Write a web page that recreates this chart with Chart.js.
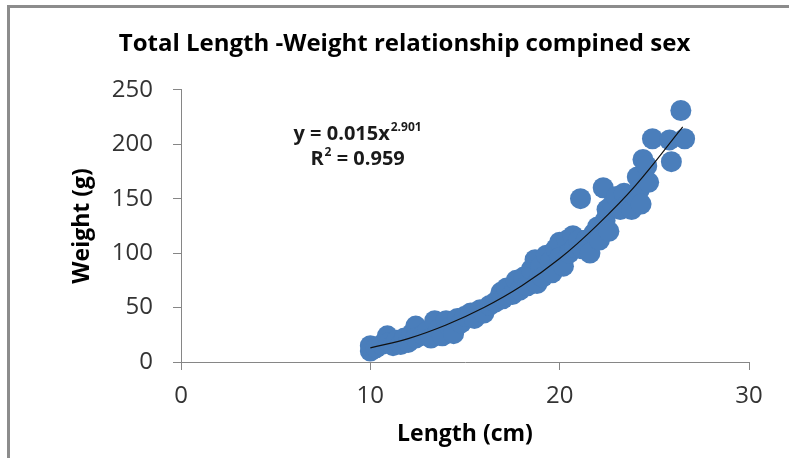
<!DOCTYPE html>
<html>
<head>
<meta charset="utf-8">
<script src="https://cdn.jsdelivr.net/npm/chart.js@4.4.1/dist/chart.umd.min.js"></script>
<style>
  html, body { margin: 0; padding: 0; background: #fff; }
  #wrap { width: 789px; height: 458px; }
</style>
</head>
<body>
<div id="wrap"><canvas id="chart" width="789" height="458"></canvas></div>
<script>
// values
const lengthCm = [
    10.0, 10.0, 10.3, 10.6, 10.9, 11.0, 11.2, 11.4, 11.6, 11.8, 12.0, 12.2, 12.4, 12.4,
    12.8, 13.0, 13.2, 13.4, 13.6, 13.8, 14.0, 14.2, 14.4, 14.6, 14.8, 15.0,
    15.3, 15.5, 15.8, 16.0, 16.3, 16.6, 16.9, 17.0, 17.2, 17.5,
    17.7, 17.9, 18.1, 18.3, 18.5, 18.7, 18.8, 19.0, 19.1, 19.3, 19.5, 19.6, 19.8,
    20.0, 20.0, 20.2, 20.4, 20.5, 20.7, 20.8, 21.0,
    21.1, 21.2, 21.4, 21.6, 21.8, 22.0, 22.1, 22.3, 22.4, 22.5, 22.6, 22.8, 23.0, 23.2,
    23.4, 23.6, 23.8, 24.0, 24.1, 24.2, 24.3, 24.4, 24.6, 24.7, 24.9, 25.8, 25.9, 26.4, 26.6
];
const weightG = [
    10, 15, 13, 16, 24, 18, 15, 20, 16, 22, 18, 26, 33, 22,
    25, 28, 22, 38, 30, 24, 38, 32, 26, 40, 36, 42,
    45, 40, 48, 45, 52, 55, 64, 58, 68, 62,
    75, 66, 78, 70, 85, 94, 72, 88, 78, 98, 92, 82, 104,
    110, 96, 88, 112, 100, 116, 105, 112,
    150, 104, 112, 100, 118, 124, 112, 160, 130, 140, 120, 145, 152, 140,
    155, 145, 140, 152, 170, 158, 145, 186, 180, 165, 205, 204, 184, 231, 205
];

// power trend line as drawn in the picture (y = 0.015x^2.901)
const trendLength = [10, 12, 14, 16, 18, 20, 22, 24, 26.5];
const trendWeight = [13, 21.5, 34, 50, 70, 95, 126, 162, 216];

const xTicks = [0, 10, 20, 30];
const yTicks = [0, 50, 100, 150, 200, 250];

const equationLine = 'y = 0.015x';
const equationPower = '2.901';
const rSquaredLine = ' = 0.959';

const scatterPoints = lengthCm.map((x, i) => ({ x, y: weightG[i] }));
const trendPoints = trendLength.map((x, i) => ({ x, y: trendWeight[i] }));

const axisGrey = '#868686';

// grey frame on the top and left edge, as in the cropped screenshot
const framePlugin = {
    id: 'frame',
    beforeDraw(chart) {
        const ctx = chart.ctx;
        ctx.save();
        ctx.fillStyle = '#fff';
        ctx.fillRect(0, 0, chart.width, chart.height);
        ctx.strokeStyle = '#8c8c8c';
        ctx.lineWidth = 3;
        ctx.beginPath();
        ctx.moveTo(8.5, chart.height);
        ctx.lineTo(8.5, 6.5);
        ctx.lineTo(chart.width, 6.5);
        ctx.stroke();
        ctx.restore();
    }
};

// trendline equation label
const equationPlugin = {
    id: 'equation',
    afterDatasetsDraw(chart, args, opts) {
        const ctx = chart.ctx;
        const cx = chart.scales.x.getPixelForValue(opts.x);
        const cy = chart.scales.y.getPixelForValue(opts.y);
        ctx.save();
        ctx.fillStyle = '#1a1a1a';
        ctx.textBaseline = 'alphabetic';
        ctx.textAlign = 'left';

        const big = 'bold 20px "Open Sans", sans-serif';
        const small = 'bold 12px "Open Sans", sans-serif';

        ctx.font = big;
        const w1 = ctx.measureText(equationLine).width;
        ctx.font = small;
        const w2 = ctx.measureText(equationPower).width;
        let x0 = cx - (w1 + w2) / 2;
        ctx.font = big;
        ctx.fillText(equationLine, x0, cy);
        ctx.font = small;
        ctx.fillText(equationPower, x0 + w1 + 1, cy - 9);

        // second line: R² = 0.959
        ctx.font = big;
        const wr = ctx.measureText('R').width;
        ctx.font = small;
        const ws = ctx.measureText('2').width;
        ctx.font = big;
        const wv = ctx.measureText(rSquaredLine).width;
        x0 = cx - (wr + ws + wv) / 2;
        const y2 = cy + 25;
        ctx.fillText('R', x0, y2);
        ctx.font = small;
        ctx.fillText('2', x0 + wr + 1, y2 - 9);
        ctx.font = big;
        ctx.fillText(rSquaredLine, x0 + wr + ws + 1, y2);
        ctx.restore();
    }
};

const ctx = document.getElementById('chart').getContext('2d');

new Chart(ctx, {
    type: 'scatter',
    data: {
        datasets: [
            {
                label: 'Trend',
                type: 'line',
                data: trendPoints,
                borderColor: '#111',
                borderWidth: 1.2,
                pointRadius: 0,
                fill: false,
                tension: 0.4,
                order: 0
            },
            {
                label: 'Weight',
                data: scatterPoints,
                backgroundColor: '#4a7ebb',
                borderWidth: 0,
                pointRadius: 10.5,
                pointHoverRadius: 10.5,
                order: 1
            }
        ]
    },
    options: {
        responsive: false,
        animation: false,
        devicePixelRatio: 1,
        layout: {
            padding: { left: 60, right: 40, top: 0, bottom: 0 }
        },
        plugins: {
            legend: { display: false },
            tooltip: { enabled: false },
            title: {
                display: true,
                text: 'Total Length -Weight relationship compined sex',
                color: '#000',
                font: { family: '"Open Sans"', size: 24, weight: 'bold' },
                padding: { top: 30, bottom: 31 }
            },
            equation: { x: 9.3, y: 204 }
        },
        scales: {
            x: {
                type: 'linear',
                min: 0,
                max: 30,
                afterBuildTicks: axis => { axis.ticks = xTicks.map(v => ({ value: v })); },
                afterFit: axis => { axis.height = 96; },
                ticks: {
                    color: '#333',
                    padding: 12,
                    font: { family: '"Open Sans"', size: 24 }
                },
                grid: {
                    display: true,
                    drawOnChartArea: false,
                    drawTicks: true,
                    tickLength: 8,
                    color: axisGrey
                },
                border: { display: true, color: axisGrey },
                title: {
                    display: true,
                    text: 'Length (cm)',
                    color: '#000',
                    font: { family: '"Open Sans"', size: 23, weight: 'bold' },
                    padding: { top: 0, bottom: 10 }
                }
            },
            y: {
                type: 'linear',
                min: 0,
                max: 250,
                afterBuildTicks: axis => { axis.ticks = yTicks.map(v => ({ value: v })); },
                afterFit: axis => { axis.width = 121; },
                ticks: {
                    color: '#333',
                    padding: 20,
                    font: { family: '"Open Sans"', size: 24 }
                },
                grid: {
                    display: true,
                    drawOnChartArea: false,
                    drawTicks: true,
                    tickLength: 8,
                    color: axisGrey
                },
                border: { display: true, color: axisGrey },
                title: {
                    display: true,
                    text: 'Weight (g)',
                    color: '#000',
                    font: { family: '"Open Sans"', size: 23, weight: 'bold' },
                    padding: { top: 9, bottom: 0 }
                }
            }
        }
    },
    plugins: [framePlugin, equationPlugin]
});
</script>
</body>
</html>
